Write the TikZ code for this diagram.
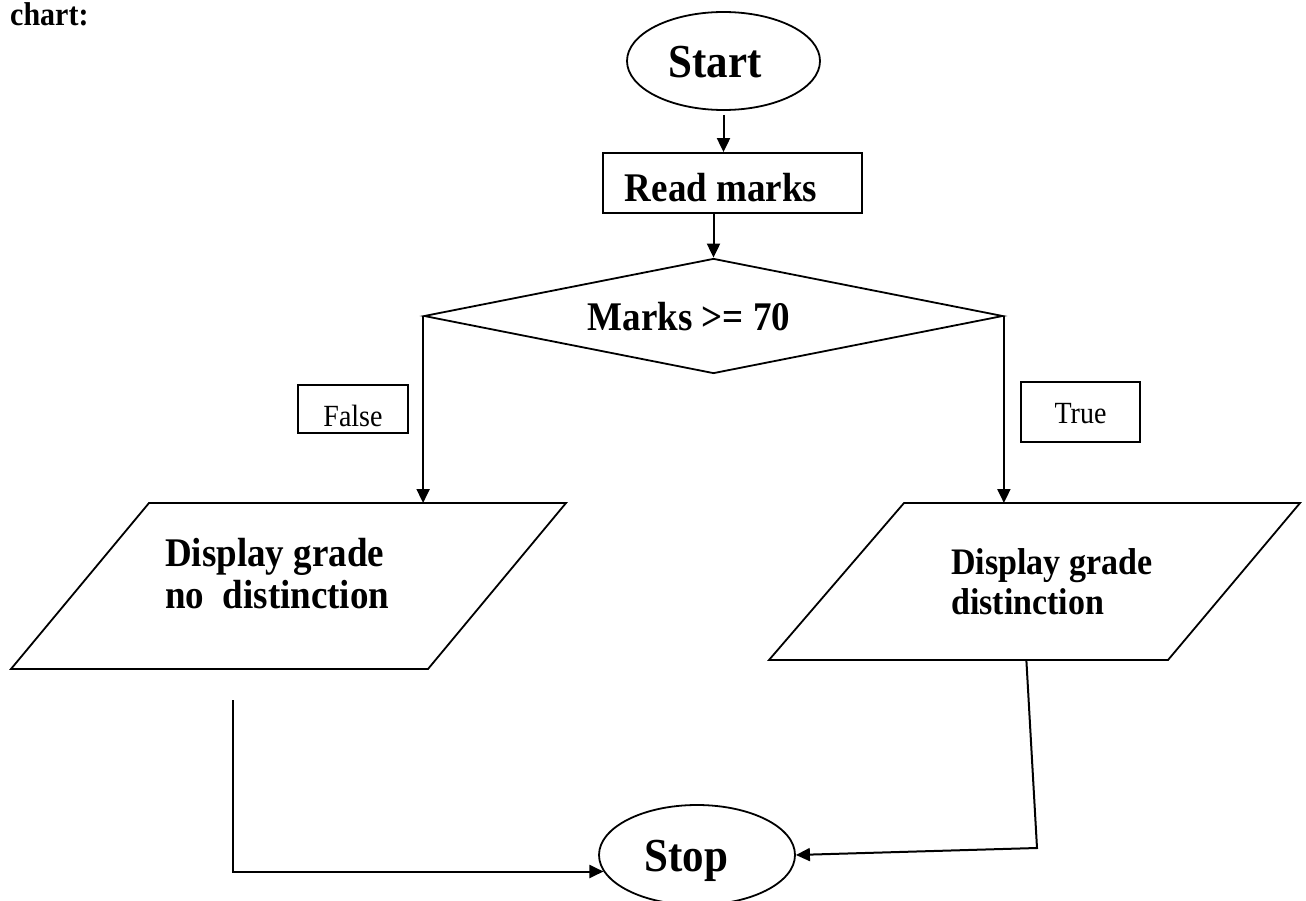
\documentclass[tikz,border=0pt]{standalone}
\usepackage{fontspec}
\setmainfont{Liberation Serif}
\usetikzlibrary{shapes.geometric,arrows.meta,calc}
\newcommand\tallt[1]{\scalebox{1}[1.1]{#1}}
\begin{document}
\begin{tikzpicture}[x=1pt,y=-1pt,
  shp/.style={draw=black, line width=1.8pt, inner sep=0pt},
  arr/.style={draw=black, line width=2pt, -{Triangle[length=14pt,width=13pt]}},
  lbl/.style={draw=black, line width=1.4pt, inner sep=0pt, font=\fontsize{28}{32}\selectfont},
  btxt/.style={inner sep=0pt, font=\bfseries\fontsize{37}{45}\selectfont},
  parapath/.style={draw=black, line width=1.8pt, line join=miter}
]
\useasboundingbox (0,0) rectangle (1306,901);
\fill[white] (0,0) rectangle (1306,901);

\node[inner sep=0pt, anchor=base west, font=\bfseries\fontsize{30}{34}\selectfont] (title) at (10,26) {\tallt{chart:}};

\node[shp, ellipse, minimum width=193pt, minimum height=98pt] (start) at (723.5,61) {};
\node[btxt, anchor=base, font=\bfseries\fontsize{43}{50}\selectfont] (starttxt) at (715,78) {\tallt{Start}};

\node[shp, rectangle, minimum width=259pt, minimum height=60pt] (read) at (732.5,183) {};
\node[btxt, anchor=base] (readtxt) at (721,202) {\tallt{Read marks}};

\node[shp, diamond, minimum width=579pt, minimum height=115pt] (dia) at (713.5,316) {};
\node[btxt, anchor=base] (diatxt) at (689,330) {\tallt{Marks >= 70}};

\node[lbl, minimum width=110pt, minimum height=48pt, text height=34pt, text depth=0pt] (false) at (353,409) {\tallt{False}};
\node[lbl, minimum width=119pt, minimum height=60pt, text height=22pt, text depth=0pt] (true) at (1080.5,412) {\tallt{True}};

% left output parallelogram
\coordinate (ltl) at (149,503);
\coordinate (ltr) at (566,503);
\coordinate (lbr) at (428,669);
\coordinate (lbl) at (11,669);
\draw[parapath] (ltl) -- (ltr) -- (lbr) -- (lbl) -- cycle;
\node[btxt, anchor=west, align=left] (louttxt) at (165,574) {\tallt{Display grade}\\[-3pt]\tallt{no\ \ distinction}};

% right output parallelogram
\coordinate (rtl) at (904,503);
\coordinate (rtr) at (1300,503);
\coordinate (rbr) at (1168,660);
\coordinate (rbl) at (769,660);
\draw[parapath] (rtl) -- (rtr) -- (rbr) -- (rbl) -- cycle;
\node[btxt, anchor=west, align=left, font=\bfseries\fontsize{34}{42}\selectfont] (routtxt) at (951,582) {\tallt{Display grade}\\[-2pt]\tallt{distinction}};

\node[shp, ellipse, minimum width=196pt, minimum height=100pt] (stop) at (697,855) {};
\node[btxt, anchor=base, font=\bfseries\fontsize{43}{50}\selectfont] (stoptxt) at (686.5,871) {\tallt{Stop}};

% connectors
\draw[arr] ([yshift=-4pt]start.south) -- (start.south |- read.north);
\draw[arr] (dia.north |- read.south) -- (dia.north);
\draw[arr] (dia.west) -- (dia.west |- ltl);
\draw[arr] (dia.east) -- (dia.east |- rtl);

\coordinate (lfree) at (233,700);
\draw[arr] (lfree) |- (stop.190);

\coordinate (rbot) at ($(rbl)!0.645!(rbr)$);
\coordinate (rcorner) at (1037,848);
\draw[arr] (rbot) -- (rcorner) -- (stop.east);
\end{tikzpicture}
\end{document}
